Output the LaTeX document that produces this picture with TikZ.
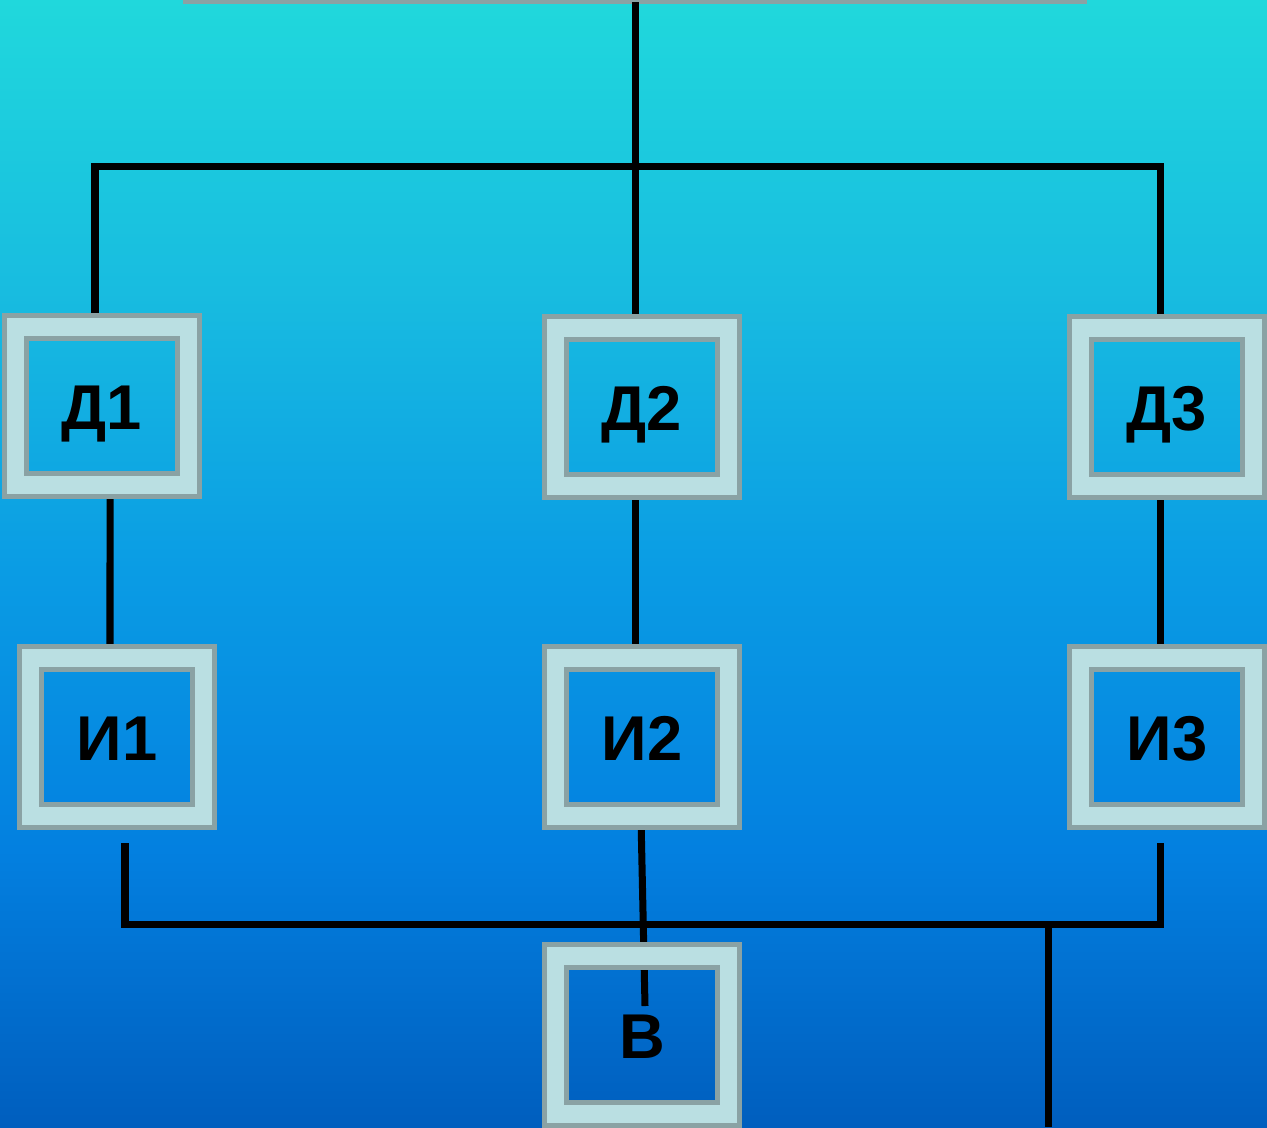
\documentclass[tikz,border=0pt]{standalone}
\usepackage{fontspec}
\setmainfont{Liberation Sans}
\usepackage{tikz}

\definecolor{topcyan}{HTML}{20D8DC}
\definecolor{upcyan}{HTML}{18BCE0}
\definecolor{midblue}{HTML}{0A9CE4}
\definecolor{deepblue}{HTML}{0380E0}
\definecolor{lowblue}{HTML}{005EBE}
\definecolor{framefill}{HTML}{BADFE2}
\definecolor{framegray}{HTML}{8AA2A4}

\pgfdeclareverticalshading{skyshade}{100bp}{color(0bp)=(lowblue); color(25bp)=(lowblue);
    color(37.3bp)=(deepblue); color(49.7bp)=(midblue); color(62.1bp)=(upcyan);
    color(75bp)=(topcyan); color(100bp)=(topcyan)}

\pgfdeclarelayer{background}
\pgfdeclarelayer{wires}
\pgfsetlayers{background,wires,main}

\tikzset{
    unitbox/.style={rectangle, draw=framegray, line width=0.05cm, double=framefill,
        double distance=0.175cm, minimum width=1.725cm, minimum height=1.575cm,
        inner sep=0pt, text height=0.47cm, text depth=0pt,
        font=\fontsize{18}{22}\selectfont\bfseries},
    wire/.style={draw=black, line width=0.07cm}
}

\begin{document}
\begin{tikzpicture}[x=0.01cm, y=-0.01cm]
    \useasboundingbox (0,0) rectangle (1267,1127);
    \begin{pgfonlayer}{background}
        \shade[shading=skyshade] (0,0) rectangle (1267,1127);
        \fill[framegray] (183,0) rectangle (1087,4);
    \end{pgfonlayer}

    \node at (102,406) [unitbox] (D1) {Д1};
    \node at (642,407) [unitbox] (D2) {Д2};
    \node at (1167,407) [unitbox] (D3) {Д3};
    \node at (117,737) [unitbox] (I1) {И1};
    \node at (642,737) [unitbox] (I2) {И2};
    \node at (1167,737) [unitbox] (I3) {И3};
    \node at (642,1035) [unitbox] (V) {В};

    \coordinate (top) at (635,2);
    \coordinate (busL) at (95,166);
    \coordinate (busR) at (1160,166);
    \coordinate (endL) at (125,843);
    \coordinate (endR) at (1160,843);
    \coordinate (joint) at (1048,924);
    \coordinate (exit) at (1048,1127);
    \coordinate (vend) at (645,1006);

    \begin{pgfonlayer}{wires}
        \draw[wire] (top) -- (top |- D2.north);
        \draw[wire] (busL |- D1.north) -- (busL) -- (busR) -- (busR |- D3.north);
        \draw[wire] ([xshift=0.08cm]D1.south) -- ([xshift=-0.07cm]I1.north);
        \draw[wire] ([xshift=-0.07cm]D2.south) -- ([xshift=-0.07cm]I2.north);
        \draw[wire] ([xshift=-0.07cm]D3.south) -- ([xshift=-0.07cm]I3.north);
        \draw[wire] (endL) -- (endL |- joint) -- (endR |- joint) -- (endR);
        \draw[wire] (joint) -- (exit);
        \draw[wire] ([xshift=-0.01cm]I2.south) -- (vend);
    \end{pgfonlayer}
\end{tikzpicture}
\end{document}
